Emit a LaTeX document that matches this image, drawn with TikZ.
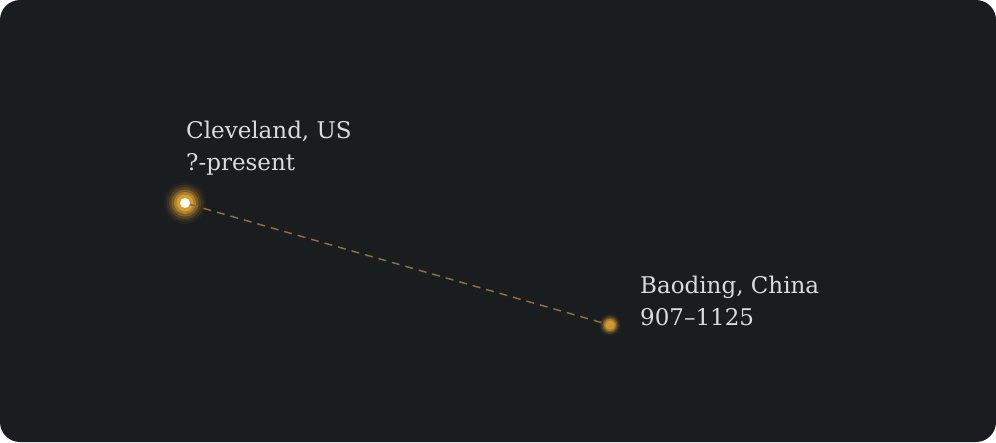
\documentclass[tikz,border=0pt]{standalone}
\usepackage{fontspec}
\setmainfont{DejaVu Serif}
\usetikzlibrary{positioning}
\definecolor{bgdark}{HTML}{1A1D20}
\definecolor{glow}{HTML}{E2A232}
\definecolor{trail}{HTML}{8C6E3C}
\definecolor{labeltext}{HTML}{D9DCDC}

\begin{document}
\begin{tikzpicture}[x=1pt,y=-1pt]
            \tikzstyle{place}=[circle, inner sep=0pt]
            \tikzstyle{city}=[text=labeltext, align=left, anchor=north west, inner sep=0pt,
                font=\fontsize{23}{32}\selectfont]
            \tikzstyle{route}=[trail, line width=1.5pt, dash pattern=on 8pt off 6pt]
            \useasboundingbox (0,0) rectangle (996,442);
            \fill[white] (0,0) rectangle (996,442);
            \fill[bgdark, rounded corners=20pt] (0,0) rectangle (996,442);
            % glows
            \foreach \r/\o in {21/0.05, 18.5/0.1, 16/0.16, 13.5/0.3, 11/0.5, 8.5/0.8}
                \fill[glow, opacity=\o] (185,203) circle (\r);
            \foreach \r/\o in {10.5/0.08, 9/0.15, 7.5/0.3, 6/0.5, 4.5/0.75}
                \fill[glow, opacity=\o] (610,325) circle (\r);
            \node[place, fill=white, minimum size=10pt] (cle) at (185,203) {};
            \node[place, minimum size=6pt] (bao) at (610,325) {};
            \draw[route] (cle) -- (bao);
            \node[city] (clelabel) at (186,121) {Cleveland, US\\?-present};
            \node[city] (baolabel) at (640,276) {Baoding, China\\907--1125};
\end{tikzpicture}
\end{document}
